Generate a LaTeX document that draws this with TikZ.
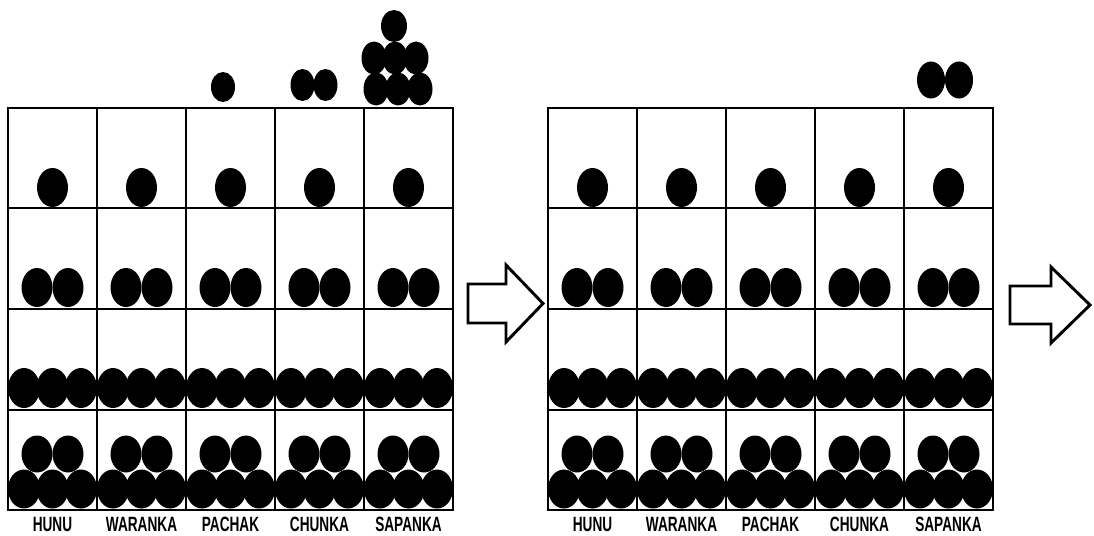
\documentclass[tikz,border=0pt]{standalone}
\usepackage{fontspec}
\newfontfamily\labelfont{Liberation Sans}[FakeStretch=0.66]

\begin{document}
\begin{tikzpicture}[x=0.75pt,y=0.75pt,yscale=-1,xscale=1,
  grid/.style={line width=1.5pt},
  bead/.style={fill=black},
  bigarrow/.style={line width=2.2pt,line join=miter},
  rodname/.style={font=\labelfont\bfseries\fontsize{15.5}{17}\selectfont,inner sep=0.75pt}]
\useasboundingbox (0,0) rectangle (1094,535);

% the two boards, same layout
\foreach \p/\s in {0/a,540/b} {
\begin{scope}[shift={(\p,0)}]
\draw[grid] (8,108) rectangle (453,510);
\foreach \c in {97,186,275,364} \draw[grid] (\c,108) -- (\c,510);
\foreach \r in {208,309,410} \draw[grid] (8,\r) -- (453,\r);
\foreach \c/\t in {52.5/HUNU,141.5/WARANKA,230.5/PACHAK,319.5/CHUNKA,408.5/SAPANKA} {
  % one, two, three, five beads per column
  \fill[bead] (\c,187.5) ellipse [x radius=15.5,y radius=19.5];
  \fill[bead] ({\c-15.5},287.5) ellipse [x radius=15.5,y radius=19.5];
  \fill[bead] ({\c+15.5},287.5) ellipse [x radius=15.5,y radius=19.5];
  \fill[bead] ({\c-28.5},388) ellipse [x radius=16,y radius=20];
  \fill[bead] (\c,388) ellipse [x radius=16,y radius=20];
  \fill[bead] ({\c+28.5},388) ellipse [x radius=16,y radius=20];
  \fill[bead] ({\c-15.5},454) ellipse [x radius=15.5,y radius=18.5];
  \fill[bead] ({\c+15.5},454) ellipse [x radius=15.5,y radius=18.5];
  \fill[bead] ({\c-28.5},489) ellipse [x radius=16,y radius=19.5];
  \fill[bead] (\c,489) ellipse [x radius=16,y radius=19.5];
  \fill[bead] ({\c+28.5},489) ellipse [x radius=16,y radius=19.5];
  \node[rodname] (\t-\s) at (\c,524.5) {\t};
}
\end{scope}
}

% carried beads above the first board
\fill[bead] (223,87) ellipse [x radius=12,y radius=15];
\fill[bead] (302.5,85) ellipse [x radius=12,y radius=16];
\fill[bead] (325.5,85) ellipse [x radius=12,y radius=16];
\fill[bead] (394,26) ellipse [x radius=13,y radius=16];
\fill[bead] (374,58) ellipse [x radius=12.5,y radius=16.5];
\fill[bead] (395,58) ellipse [x radius=12.5,y radius=16.5];
\fill[bead] (416,58) ellipse [x radius=12.5,y radius=16.5];
\fill[bead] (376,89) ellipse [x radius=12.5,y radius=16.5];
\fill[bead] (398,89) ellipse [x radius=12.5,y radius=16.5];
\fill[bead] (420,89) ellipse [x radius=12.5,y radius=16.5];

% and above the second one
\fill[bead] (931,80) ellipse [x radius=14,y radius=18.5];
\fill[bead] (959,80) ellipse [x radius=14,y radius=18.5];

% block arrows
\draw[bigarrow] (468,284) -- (506,284) -- (506,265) -- (543,303.5) -- (506,342) -- (506,323) -- (468,323) -- cycle;
\draw[bigarrow] (1010,286) -- (1051,286) -- (1051,267) -- (1090,305) -- (1051,343) -- (1051,324) -- (1010,324) -- cycle;
\end{tikzpicture}
\end{document}
